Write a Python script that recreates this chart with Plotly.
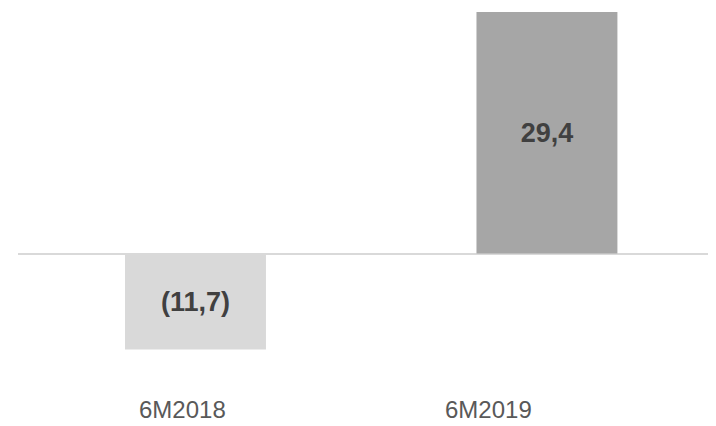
import plotly.graph_objects as go

categories = ["6M2018", "6M2019"]
values = [-11.7, 29.4]
labels = ["(11,7)", "29,4"]
colors = ["#d9d9d9", "#a6a6a6"]

fig = go.Figure()
fig.add_trace(go.Bar(
    x=categories, y=values, text=labels, textposition="inside",
    insidetextanchor="middle", textangle=0,
    textfont=dict(family="Liberation Sans, Arial", size=27, color="#404040", weight="bold"),
    marker=dict(color=colors, line=dict(width=0)),
    width=0.401,
))

label_shifts = [-13, -58]
for c, s in zip(categories, label_shifts):
    fig.add_annotation(x=c, y=-0.0806, xref="x", yref="paper", text=c, showarrow=False,
                       xshift=s, yanchor="middle",
                       font=dict(family="Liberation Sans, Arial", size=24, color="#595959"))

fig.update_layout(
    width=716, height=426,
    margin=dict(l=10, r=8, t=0, b=54),
    plot_bgcolor="white", paper_bgcolor="white",
    showlegend=False,
    xaxis=dict(range=[-0.505, 1.481], showticklabels=False, showgrid=False, zeroline=False, showline=False, ticks=""),
    yaxis=dict(range=[-15.4, 29.89], showticklabels=False, showgrid=False, zeroline=True,
               zerolinecolor="#d9d9d9", zerolinewidth=2, showline=False, ticks=""),
)
fig.write_html("out.html")
